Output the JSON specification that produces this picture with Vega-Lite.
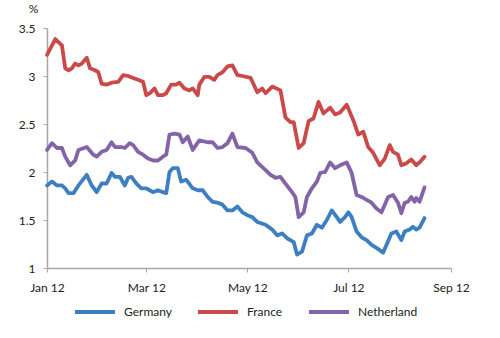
{
  "$schema": "https://vega.github.io/schema/vega-lite/v6.json",
  "autosize": {"type": "none"},
  "width": 404,
  "height": 240,
  "padding": {"left": 47, "top": 28, "right": 49, "bottom": 70},
  "background": "white",
  "config": {"view": {"stroke": null}, "font": "Lato"},
  "data": {"values": [
    {"date":"2012-01-01","country":"France","value":3.22},
    {"date":"2012-01-06","country":"France","value":3.385},
    {"date":"2012-01-10","country":"France","value":3.32},
    {"date":"2012-01-12","country":"France","value":3.08},
    {"date":"2012-01-14","country":"France","value":3.06},
    {"date":"2012-01-16","country":"France","value":3.08},
    {"date":"2012-01-18","country":"France","value":3.13},
    {"date":"2012-01-20","country":"France","value":3.11},
    {"date":"2012-01-22","country":"France","value":3.13},
    {"date":"2012-01-25","country":"France","value":3.19},
    {"date":"2012-01-27","country":"France","value":3.08},
    {"date":"2012-01-30","country":"France","value":3.06},
    {"date":"2012-02-01","country":"France","value":3.04},
    {"date":"2012-02-03","country":"France","value":2.92},
    {"date":"2012-02-06","country":"France","value":2.91},
    {"date":"2012-02-09","country":"France","value":2.93},
    {"date":"2012-02-13","country":"France","value":2.94},
    {"date":"2012-02-16","country":"France","value":3.01},
    {"date":"2012-02-19","country":"France","value":3.00},
    {"date":"2012-02-22","country":"France","value":2.98},
    {"date":"2012-02-25","country":"France","value":2.96},
    {"date":"2012-02-28","country":"France","value":2.94},
    {"date":"2012-03-01","country":"France","value":2.80},
    {"date":"2012-03-03","country":"France","value":2.82},
    {"date":"2012-03-06","country":"France","value":2.87},
    {"date":"2012-03-08","country":"France","value":2.80},
    {"date":"2012-03-11","country":"France","value":2.80},
    {"date":"2012-03-13","country":"France","value":2.82},
    {"date":"2012-03-16","country":"France","value":2.91},
    {"date":"2012-03-19","country":"France","value":2.91},
    {"date":"2012-03-21","country":"France","value":2.93},
    {"date":"2012-03-24","country":"France","value":2.87},
    {"date":"2012-03-27","country":"France","value":2.85},
    {"date":"2012-03-29","country":"France","value":2.87},
    {"date":"2012-04-01","country":"France","value":2.80},
    {"date":"2012-04-02","country":"France","value":2.91},
    {"date":"2012-04-05","country":"France","value":2.99},
    {"date":"2012-04-08","country":"France","value":2.99},
    {"date":"2012-04-11","country":"France","value":2.96},
    {"date":"2012-04-13","country":"France","value":3.01},
    {"date":"2012-04-16","country":"France","value":3.04},
    {"date":"2012-04-19","country":"France","value":3.10},
    {"date":"2012-04-22","country":"France","value":3.11},
    {"date":"2012-04-25","country":"France","value":3.01},
    {"date":"2012-04-28","country":"France","value":3.00},
    {"date":"2012-05-03","country":"France","value":2.98},
    {"date":"2012-05-07","country":"France","value":2.83},
    {"date":"2012-05-10","country":"France","value":2.87},
    {"date":"2012-05-12","country":"France","value":2.82},
    {"date":"2012-05-16","country":"France","value":2.89},
    {"date":"2012-05-21","country":"France","value":2.85},
    {"date":"2012-05-24","country":"France","value":2.57},
    {"date":"2012-05-27","country":"France","value":2.52},
    {"date":"2012-05-29","country":"France","value":2.52},
    {"date":"2012-06-01","country":"France","value":2.25},
    {"date":"2012-06-04","country":"France","value":2.30},
    {"date":"2012-06-07","country":"France","value":2.53},
    {"date":"2012-06-10","country":"France","value":2.56},
    {"date":"2012-06-13","country":"France","value":2.73},
    {"date":"2012-06-16","country":"France","value":2.61},
    {"date":"2012-06-20","country":"France","value":2.67},
    {"date":"2012-06-23","country":"France","value":2.60},
    {"date":"2012-06-26","country":"France","value":2.62},
    {"date":"2012-06-30","country":"France","value":2.70},
    {"date":"2012-07-04","country":"France","value":2.54},
    {"date":"2012-07-07","country":"France","value":2.39},
    {"date":"2012-07-10","country":"France","value":2.42},
    {"date":"2012-07-13","country":"France","value":2.26},
    {"date":"2012-07-16","country":"France","value":2.20},
    {"date":"2012-07-20","country":"France","value":2.07},
    {"date":"2012-07-23","country":"France","value":2.14},
    {"date":"2012-07-26","country":"France","value":2.28},
    {"date":"2012-07-28","country":"France","value":2.21},
    {"date":"2012-07-31","country":"France","value":2.18},
    {"date":"2012-08-02","country":"France","value":2.07},
    {"date":"2012-08-05","country":"France","value":2.09},
    {"date":"2012-08-08","country":"France","value":2.13},
    {"date":"2012-08-11","country":"France","value":2.07},
    {"date":"2012-08-13","country":"France","value":2.10},
    {"date":"2012-08-16","country":"France","value":2.16},

    {"date":"2012-01-01","country":"Netherland","value":2.23},
    {"date":"2012-01-04","country":"Netherland","value":2.30},
    {"date":"2012-01-07","country":"Netherland","value":2.25},
    {"date":"2012-01-10","country":"Netherland","value":2.25},
    {"date":"2012-01-12","country":"Netherland","value":2.16},
    {"date":"2012-01-15","country":"Netherland","value":2.07},
    {"date":"2012-01-18","country":"Netherland","value":2.12},
    {"date":"2012-01-20","country":"Netherland","value":2.23},
    {"date":"2012-01-25","country":"Netherland","value":2.26},
    {"date":"2012-01-29","country":"Netherland","value":2.18},
    {"date":"2012-01-31","country":"Netherland","value":2.16},
    {"date":"2012-02-03","country":"Netherland","value":2.21},
    {"date":"2012-02-06","country":"Netherland","value":2.23},
    {"date":"2012-02-09","country":"Netherland","value":2.31},
    {"date":"2012-02-11","country":"Netherland","value":2.26},
    {"date":"2012-02-15","country":"Netherland","value":2.26},
    {"date":"2012-02-17","country":"Netherland","value":2.25},
    {"date":"2012-02-20","country":"Netherland","value":2.30},
    {"date":"2012-02-22","country":"Netherland","value":2.28},
    {"date":"2012-02-25","country":"Netherland","value":2.21},
    {"date":"2012-02-28","country":"Netherland","value":2.18},
    {"date":"2012-03-02","country":"Netherland","value":2.14},
    {"date":"2012-03-05","country":"Netherland","value":2.12},
    {"date":"2012-03-08","country":"Netherland","value":2.12},
    {"date":"2012-03-11","country":"Netherland","value":2.16},
    {"date":"2012-03-13","country":"Netherland","value":2.18},
    {"date":"2012-03-15","country":"Netherland","value":2.39},
    {"date":"2012-03-18","country":"Netherland","value":2.40},
    {"date":"2012-03-21","country":"Netherland","value":2.39},
    {"date":"2012-03-23","country":"Netherland","value":2.31},
    {"date":"2012-03-26","country":"Netherland","value":2.37},
    {"date":"2012-03-29","country":"Netherland","value":2.23},
    {"date":"2012-04-02","country":"Netherland","value":2.33},
    {"date":"2012-04-07","country":"Netherland","value":2.31},
    {"date":"2012-04-10","country":"Netherland","value":2.31},
    {"date":"2012-04-13","country":"Netherland","value":2.25},
    {"date":"2012-04-16","country":"Netherland","value":2.26},
    {"date":"2012-04-19","country":"Netherland","value":2.30},
    {"date":"2012-04-22","country":"Netherland","value":2.40},
    {"date":"2012-04-25","country":"Netherland","value":2.26},
    {"date":"2012-04-30","country":"Netherland","value":2.25},
    {"date":"2012-05-04","country":"Netherland","value":2.20},
    {"date":"2012-05-07","country":"Netherland","value":2.10},
    {"date":"2012-05-12","country":"Netherland","value":2.02},
    {"date":"2012-05-15","country":"Netherland","value":1.97},
    {"date":"2012-05-18","country":"Netherland","value":1.94},
    {"date":"2012-05-21","country":"Netherland","value":1.95},
    {"date":"2012-05-24","country":"Netherland","value":1.88},
    {"date":"2012-05-28","country":"Netherland","value":1.79},
    {"date":"2012-05-30","country":"Netherland","value":1.74},
    {"date":"2012-06-01","country":"Netherland","value":1.53},
    {"date":"2012-06-04","country":"Netherland","value":1.58},
    {"date":"2012-06-06","country":"Netherland","value":1.74},
    {"date":"2012-06-09","country":"Netherland","value":1.83},
    {"date":"2012-06-12","country":"Netherland","value":1.90},
    {"date":"2012-06-14","country":"Netherland","value":1.99},
    {"date":"2012-06-17","country":"Netherland","value":2.00},
    {"date":"2012-06-20","country":"Netherland","value":2.10},
    {"date":"2012-06-23","country":"Netherland","value":2.04},
    {"date":"2012-06-26","country":"Netherland","value":2.07},
    {"date":"2012-06-30","country":"Netherland","value":2.10},
    {"date":"2012-07-03","country":"Netherland","value":1.99},
    {"date":"2012-07-06","country":"Netherland","value":1.76},
    {"date":"2012-07-09","country":"Netherland","value":1.74},
    {"date":"2012-07-12","country":"Netherland","value":1.71},
    {"date":"2012-07-15","country":"Netherland","value":1.68},
    {"date":"2012-07-18","country":"Netherland","value":1.62},
    {"date":"2012-07-21","country":"Netherland","value":1.58},
    {"date":"2012-07-23","country":"Netherland","value":1.66},
    {"date":"2012-07-25","country":"Netherland","value":1.74},
    {"date":"2012-07-28","country":"Netherland","value":1.76},
    {"date":"2012-07-31","country":"Netherland","value":1.68},
    {"date":"2012-08-02","country":"Netherland","value":1.57},
    {"date":"2012-08-04","country":"Netherland","value":1.68},
    {"date":"2012-08-06","country":"Netherland","value":1.69},
    {"date":"2012-08-08","country":"Netherland","value":1.74},
    {"date":"2012-08-10","country":"Netherland","value":1.69},
    {"date":"2012-08-11","country":"Netherland","value":1.73},
    {"date":"2012-08-13","country":"Netherland","value":1.69},
    {"date":"2012-08-16","country":"Netherland","value":1.84},

    {"date":"2012-01-01","country":"Germany","value":1.86},
    {"date":"2012-01-04","country":"Germany","value":1.90},
    {"date":"2012-01-07","country":"Germany","value":1.86},
    {"date":"2012-01-10","country":"Germany","value":1.86},
    {"date":"2012-01-12","country":"Germany","value":1.83},
    {"date":"2012-01-14","country":"Germany","value":1.78},
    {"date":"2012-01-17","country":"Germany","value":1.78},
    {"date":"2012-01-20","country":"Germany","value":1.86},
    {"date":"2012-01-25","country":"Germany","value":1.97},
    {"date":"2012-01-28","country":"Germany","value":1.86},
    {"date":"2012-01-31","country":"Germany","value":1.79},
    {"date":"2012-02-03","country":"Germany","value":1.88},
    {"date":"2012-02-06","country":"Germany","value":1.88},
    {"date":"2012-02-09","country":"Germany","value":1.99},
    {"date":"2012-02-11","country":"Germany","value":1.95},
    {"date":"2012-02-14","country":"Germany","value":1.95},
    {"date":"2012-02-17","country":"Germany","value":1.86},
    {"date":"2012-02-19","country":"Germany","value":1.94},
    {"date":"2012-02-21","country":"Germany","value":1.95},
    {"date":"2012-02-24","country":"Germany","value":1.88},
    {"date":"2012-02-27","country":"Germany","value":1.83},
    {"date":"2012-03-01","country":"Germany","value":1.83},
    {"date":"2012-03-03","country":"Germany","value":1.81},
    {"date":"2012-03-05","country":"Germany","value":1.79},
    {"date":"2012-03-08","country":"Germany","value":1.81},
    {"date":"2012-03-11","country":"Germany","value":1.79},
    {"date":"2012-03-13","country":"Germany","value":1.78},
    {"date":"2012-03-15","country":"Germany","value":2.00},
    {"date":"2012-03-17","country":"Germany","value":2.04},
    {"date":"2012-03-20","country":"Germany","value":2.04},
    {"date":"2012-03-22","country":"Germany","value":1.90},
    {"date":"2012-03-25","country":"Germany","value":1.92},
    {"date":"2012-03-29","country":"Germany","value":1.83},
    {"date":"2012-04-01","country":"Germany","value":1.81},
    {"date":"2012-04-04","country":"Germany","value":1.81},
    {"date":"2012-04-07","country":"Germany","value":1.74},
    {"date":"2012-04-10","country":"Germany","value":1.69},
    {"date":"2012-04-13","country":"Germany","value":1.68},
    {"date":"2012-04-16","country":"Germany","value":1.66},
    {"date":"2012-04-19","country":"Germany","value":1.60},
    {"date":"2012-04-22","country":"Germany","value":1.60},
    {"date":"2012-04-25","country":"Germany","value":1.64},
    {"date":"2012-04-28","country":"Germany","value":1.58},
    {"date":"2012-05-01","country":"Germany","value":1.55},
    {"date":"2012-05-04","country":"Germany","value":1.53},
    {"date":"2012-05-07","country":"Germany","value":1.48},
    {"date":"2012-05-12","country":"Germany","value":1.45},
    {"date":"2012-05-16","country":"Germany","value":1.40},
    {"date":"2012-05-19","country":"Germany","value":1.34},
    {"date":"2012-05-22","country":"Germany","value":1.36},
    {"date":"2012-05-25","country":"Germany","value":1.31},
    {"date":"2012-05-29","country":"Germany","value":1.27},
    {"date":"2012-05-31","country":"Germany","value":1.14},
    {"date":"2012-06-03","country":"Germany","value":1.17},
    {"date":"2012-06-06","country":"Germany","value":1.34},
    {"date":"2012-06-09","country":"Germany","value":1.36},
    {"date":"2012-06-12","country":"Germany","value":1.45},
    {"date":"2012-06-15","country":"Germany","value":1.42},
    {"date":"2012-06-18","country":"Germany","value":1.50},
    {"date":"2012-06-21","country":"Germany","value":1.60},
    {"date":"2012-06-24","country":"Germany","value":1.53},
    {"date":"2012-06-26","country":"Germany","value":1.48},
    {"date":"2012-06-29","country":"Germany","value":1.53},
    {"date":"2012-07-01","country":"Germany","value":1.58},
    {"date":"2012-07-03","country":"Germany","value":1.53},
    {"date":"2012-07-06","country":"Germany","value":1.38},
    {"date":"2012-07-09","country":"Germany","value":1.32},
    {"date":"2012-07-12","country":"Germany","value":1.29},
    {"date":"2012-07-15","country":"Germany","value":1.24},
    {"date":"2012-07-18","country":"Germany","value":1.21},
    {"date":"2012-07-22","country":"Germany","value":1.16},
    {"date":"2012-07-24","country":"Germany","value":1.24},
    {"date":"2012-07-27","country":"Germany","value":1.36},
    {"date":"2012-07-30","country":"Germany","value":1.38},
    {"date":"2012-08-02","country":"Germany","value":1.29},
    {"date":"2012-08-04","country":"Germany","value":1.38},
    {"date":"2012-08-07","country":"Germany","value":1.40},
    {"date":"2012-08-09","country":"Germany","value":1.43},
    {"date":"2012-08-11","country":"Germany","value":1.40},
    {"date":"2012-08-13","country":"Germany","value":1.42},
    {"date":"2012-08-16","country":"Germany","value":1.52}
  ]},
  "mark": {"type": "line", "strokeWidth": 3.8, "strokeJoin": "round", "strokeCap": "round"},
  "encoding": {
    "x": {
      "field": "date", "type": "temporal",
      "scale": {"domain": ["2012-01-01", "2012-09-01"]},
      "axis": {
        "title": null,
        "values": ["2012-01-01", "2012-03-01", "2012-05-01", "2012-07-01", "2012-09-01"],
        "format": "%b %y",
        "grid": false,
        "domainColor": "#a6a6a6", "domainWidth": 1.5,
        "tickColor": "#a6a6a6", "tickSize": 4,
        "labelFont": "Lato", "labelFontSize": 12, "labelColor": "#222222",
        "labelPadding": 10, "labelFlush": false
      }
    },
    "y": {
      "field": "value", "type": "quantitative",
      "scale": {"domain": [1, 3.5], "nice": false, "zero": false},
      "axis": {
        "title": "%",
        "titleAngle": 0, "titleX": -14, "titleY": -20,
        "titleAlign": "center", "titleBaseline": "middle",
        "titleFont": "Lato", "titleFontSize": 12, "titleFontWeight": "normal", "titleColor": "#222222",
        "values": [1, 1.5, 2, 2.5, 3, 3.5],
        "format": "~g",
        "grid": false,
        "domainColor": "#a6a6a6", "domainWidth": 1.5,
        "tickColor": "#a6a6a6", "tickSize": 4,
        "labelFont": "Lato", "labelFontSize": 12, "labelColor": "#222222",
        "labelPadding": 8
      }
    },
    "color": {
      "field": "country", "type": "nominal",
      "scale": {"domain": ["Germany", "France", "Netherland"], "range": ["#3e7fc1", "#c94a48", "#8464a8"]},
      "legend": {
        "title": null,
        "orient": "none",
        "direction": "horizontal",
        "legendX": 26,
        "legendY": 262,
        "symbolType": "stroke",
        "symbolSize": 1600,
        "symbolStrokeWidth": 4,
        "labelFont": "Lato", "labelFontSize": 12, "labelColor": "#222222",
        "labelOffset": 7,
        "columnPadding": 18
      }
    }
  }
}
